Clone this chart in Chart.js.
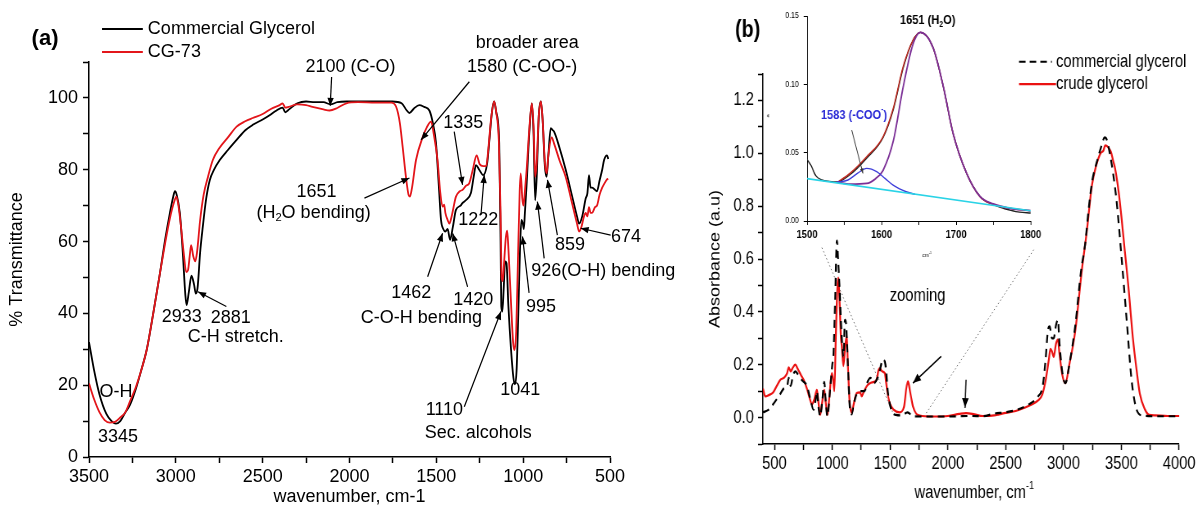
<!DOCTYPE html>
<html>
<head>
<meta charset="utf-8">
<script src="https://cdn.jsdelivr.net/npm/chart.js@4.4.1/dist/chart.umd.min.js"></script>
<style>
  body { margin: 0; background: #fff; width: 1198px; height: 510px; position: relative; overflow: hidden; }
  canvas { position: absolute; top: 0; }
</style>
</head>
<body>
<canvas id="chartA" width="700" height="510" style="left:0"></canvas>
<!-- panel (b) is drawn wide and squeezed to 82% horizontally, like the original figure -->
<canvas id="chartB" width="620" height="510" style="left:690px;width:508px;height:510px"></canvas>
<canvas id="chartIn" width="354" height="260" style="left:757px;width:290px;height:260px"></canvas>
<script>
// ---- panel (a): % transmittance vs wavenumber (cm-1), listed high -> low
const commercialWnA = [3500,3470,3440,3400,3370,3345,3320,3290,3264,3230,3200,3167,3130,3092,3060,3034,3015,3005,2995,2977,2960,2945,2938,2925,2910,2895,2885,2875,2860,2845,2825,2805,2780,2747,2700,2650,2600,2557,2500,2460,2420,2385,2370,2355,2330,2300,2250,2200,2150,2110,2070,2018,1950,1850,1753,1700,1670,1655,1630,1598,1570,1540,1520,1502,1485,1473,1460,1448,1435,1421,1405,1387,1360,1350,1330,1301,1285,1272,1253,1230,1207,1195,1180,1167,1155,1138,1130,1126,1120,1112,1104,1096,1085,1070,1056,1047,1038,1028,1018,1010,1002,996,990,980,965,950,940,931,922,910,898,888,875,865,855,841,830,822,790,755,720,690,678,660,640,630,621,612,603,575,560,545,534,517,510];
const commercialTA  = [32,24,17.5,12,10,9.3,10,12.5,14.5,19,24,30,40,51,61,68,72.5,74,73,68,57,45,42.3,46,50.5,48,45.5,47,57,64,72,77,80,82.7,85.5,88.3,91,92.5,94,95.2,96.5,97.3,96,96.5,97.5,98.5,99,98.8,98.8,98.2,98.8,99,99,99,99,98.5,96.5,95.8,97,98,97.5,96.5,93,87.5,75,66,63.5,62.8,63.5,60.5,64,68.8,70,70.7,71.5,73.5,78,81.3,80,78.5,81.9,88,96,99,96,87.5,60,42,40.5,47,54.5,54,42,30,22,20.2,24,40,58,66,65,63.5,68,76,90,98.5,90,71.5,78,95,99,94,81,78,84,91.6,91,90.6,86,80,73,67,65,67,72,73.5,78.5,75,75,74,77,80,82.7,84,83];
const cg73WnA = [3500,3470,3440,3410,3380,3350,3320,3290,3264,3230,3200,3167,3130,3092,3060,3034,3010,2997,2985,2970,2955,2940,2930,2920,2912,2900,2888,2878,2860,2840,2815,2787,2750,2700,2650,2600,2557,2500,2450,2402,2385,2370,2350,2300,2250,2213,2150,2115,2070,2018,1950,1850,1760,1732,1710,1694,1675,1660,1652,1640,1617,1579,1555,1530,1515,1493,1478,1464,1455,1448,1435,1425,1412,1387,1365,1349,1330,1310,1290,1268,1250,1230,1213,1200,1185,1167,1155,1140,1130,1124,1118,1110,1100,1092,1085,1070,1058,1050,1040,1030,1020,1014,1005,998,990,980,965,950,940,931,922,910,898,888,875,865,855,836,820,790,755,720,690,678,665,650,640,630,621,612,603,586,575,560,545,534,517,510];
const cg73TA  = [20.5,16,12.5,10.3,9.6,9.8,11,12.5,15.5,19.5,24,30,40,51,60,66.5,71,72.5,70,64,57,51.5,52,56,59,56,54.5,57,66,73,78,82.7,86,89,92,93.5,94.4,95.5,97,98,98.5,97.3,97.5,98.2,98,97.5,96.8,96.5,97.2,98.5,98.8,98.7,98.7,97.6,93,86.4,78,73,72.5,75,82.7,89,91.8,93.4,90,82.7,74,69.7,70.3,68,66,65,67,72.5,74,74.4,75.5,76.3,80,84,81.5,81,81,86,94,99,96,88,68,50,49,54,61,63,58,43,32,29.8,35,55,74,79,72,70,74,80,91,98.5,92,78,82,95,99,94,82,79,84,89,87,82.5,78,71,65,62.8,64,67,68,67,69.6,68,68,69.6,70,73,75,76,77.3,77.5];
const xLabelsA = [500,1000,1500,2000,2500,3000,3500];
const yLabelsA = [0,20,40,60,80,100];

// ---- panel (b): absorbance vs wavenumber (cm-1), listed low -> high
const commercialWnB = [400,450,488,520,551,580,610,623,640,660,680,700,740,780,810,838,860,867,880,895,915,930,945,958,980,1000,1010,1025,1040,1050,1062,1075,1085,1096,1110,1120,1135,1150,1168,1185,1211,1240,1255,1280,1300,1330,1360,1400,1440,1460,1480,1510,1550,1600,1650,1700,1800,2000,2200,2300,2400,2500,2600,2700,2780,2820,2845,2865,2880,2900,2915,2935,2951,2965,2990,3016,3050,3102,3150,3188,3220,3250,3290,3330,3355,3375,3400,3430,3461,3503,3546,3589,3632,3680,3800,4000];
const commercialAbsB = [0.02,0.03,0.05,0.07,0.09,0.11,0.12,0.15,0.12,0.16,0.175,0.165,0.14,0.12,0.07,0.03,0.08,0.1,0.04,0.005,0.07,0.135,0.05,0.005,0.1,0.2,0.24,0.45,0.67,0.6,0.5,0.36,0.28,0.23,0.37,0.35,0.2,0.05,0.012,0.05,0.09,0.1,0.1,0.1,0.13,0.15,0.13,0.16,0.22,0.2,0.1,0.03,0.01,0.008,0.02,0.005,0.004,0.004,0.006,0.005,0.015,0.02,0.03,0.05,0.08,0.12,0.22,0.33,0.345,0.3,0.3,0.35,0.37,0.28,0.17,0.13,0.2,0.35,0.55,0.66,0.8,0.9,0.97,1.03,1.06,1.05,1.0,0.92,0.81,0.6,0.37,0.14,0.03,0.008,0.005,0.005];
const crudeWnB = [400,420,450,488,520,551,580,609,623,640,660,680,700,730,752,780,800,824,845,867,882,895,910,930,945,958,975,996,1008,1018,1030,1045,1053,1062,1075,1082,1096,1110,1125,1135,1150,1168,1185,1211,1240,1255,1268,1300,1325,1360,1383,1400,1411,1430,1454,1475,1497,1530,1583,1620,1640,1655,1672,1698,1725,1755,1870,2000,2100,2157,2230,2300,2400,2443,2500,2586,2650,2729,2780,2815,2845,2873,2887,2900,2915,2935,2951,2965,2990,3016,3050,3102,3159,3200,3245,3280,3320,3345,3360,3374,3390,3410,3430,3447,3475,3503,3530,3560,3600,3632,3660,3705,3740,3790,3900,4000];
const crudeAbsB = [0.11,0.08,0.085,0.095,0.12,0.143,0.15,0.168,0.19,0.175,0.19,0.2,0.185,0.16,0.143,0.11,0.08,0.05,0.07,0.105,0.05,0.01,0.05,0.105,0.05,0.01,0.08,0.168,0.14,0.1,0.3,0.5,0.53,0.45,0.3,0.27,0.195,0.26,0.31,0.2,0.06,0.017,0.05,0.093,0.095,0.08,0.093,0.12,0.13,0.135,0.143,0.18,0.187,0.175,0.168,0.1,0.055,0.03,0.02,0.04,0.11,0.137,0.1,0.042,0.015,0.008,0.004,0.006,0.014,0.017,0.012,0.006,0.008,0.012,0.018,0.025,0.035,0.05,0.065,0.086,0.14,0.22,0.26,0.25,0.23,0.28,0.295,0.24,0.16,0.13,0.2,0.33,0.56,0.7,0.877,0.95,1.0,1.01,1.03,1.028,1.02,1.005,0.97,0.94,0.86,0.75,0.63,0.5,0.3,0.18,0.09,0.03,0.01,0.008,0.006,0.006];
// dotted "zooming" guides
const guide1Wn = [910, 1525], guide1Abs = [0.643, 0.017];
const guide2Wn = [1813, 2744], guide2Abs = [0.017, 0.636];
const xLabelsB = [500,1000,1500,2000,2500,3000,3500,4000];
const yLabelsB = [0,0.2,0.4,0.6,0.8,1.0,1.2];

// ---- inset: 1500-1800 cm-1 deconvolution
const rawWn = [1500,1505,1512,1520,1530,1540,1558,1580,1602,1616,1629,1642,1652,1669,1683,1696,1714,1732,1750,1765,1772,1785,1800];
const rawAbs = [0.045,0.041,0.033,0.030,0.029,0.0285,0.034,0.046,0.061,0.082,0.112,0.132,0.138,0.127,0.098,0.064,0.035,0.018,0.012,0.009,0.008,0.0065,0.0058];
const fitWn = [1540,1558,1580,1602,1616,1629,1642,1652,1669,1683,1696,1714,1732,1750,1770,1800];
const fitAbs = [0.028,0.035,0.047,0.0616,0.083,0.113,0.132,0.138,0.127,0.098,0.064,0.035,0.0178,0.012,0.0095,0.0075];
const p1651Wn = [1540,1558,1580,1592,1602,1616,1629,1642,1652,1669,1683,1696,1714,1732,1750,1770,1800];
const p1651Abs = [0.0285,0.027,0.0275,0.031,0.037,0.059,0.098,0.129,0.138,0.127,0.098,0.064,0.035,0.018,0.0125,0.0095,0.0075];
const p1583Wn = [1540,1555,1568,1580,1594,1605,1616,1633,1645];
const p1583Abs = [0.0285,0.030,0.035,0.0385,0.036,0.031,0.026,0.0214,0.0195];
const baseWn = [1500,1800], baseAbs = [0.031,0.0075];
const xLabelsIn = [1500,1600,1700,1800];
const yLabelsIn = [0,0.05,0.1,0.15];

const RED_A = '#e3161b';
const RED_B = '#ea1212';
const FONT = '"Liberation Sans", Arial, sans-serif';

Chart.defaults.color = '#000';
Chart.defaults.font.family = FONT;

function pts(xs, ys) { return xs.map((x, i) => ({ x: x, y: ys[i] })); }

function lineSet(label, xs, ys, color, width, extra) {
  return Object.assign({
    label: label, data: pts(xs, ys), borderColor: color, borderWidth: width,
    pointRadius: 0, fill: false, cubicInterpolationMode: 'monotone'
  }, extra || {});
}

function axis(o) {
  return {
    type: 'linear', min: o.min, max: o.max, reverse: !!o.reverse,
    border: { display: true, color: '#000', width: o.bw || 1.5 },
    grid: { drawOnChartArea: false, drawTicks: true, tickLength: o.tl || 6, tickColor: '#000', tickWidth: o.bw || 1.5 },
    ticks: {
      stepSize: o.step, autoSkip: false, maxRotation: 0, minRotation: 0, includeBounds: false,
      padding: o.pad || 3, color: '#000', font: o.font,
      callback: v => {
        const hit = o.labels.find(l => Math.abs(l - v) < 1e-9);
        return hit === undefined ? '' : o.fmt(hit);
      }
    },
    title: o.title || { display: false },
    afterFit: s => { if (o.w) s.width = o.w; if (o.h) s.height = o.h; }
  };
}

function drawRich(ctx, text, x, y, o) {
  const parts = [];
  const re = /([_^])\{([^}]*)\}/g;
  let last = 0, m;
  while ((m = re.exec(text))) {
    if (m.index > last) parts.push([text.slice(last, m.index), 0]);
    parts.push([m[2], m[1] === '_' ? 1 : -1]);
    last = re.lastIndex;
  }
  if (last < text.length) parts.push([text.slice(last), 0]);
  const size = o.size, wt = o.bold ? 'bold ' : '';
  const f = s => wt + s + 'px ' + FONT;
  let total = 0;
  const widths = parts.map(p => {
    ctx.font = f(p[1] ? size * 0.62 : size);
    const w = ctx.measureText(p[0]).width;
    total += w;
    return w;
  });
  ctx.save();
  ctx.translate(x, y);
  if (o.rot) ctx.rotate(o.rot);
  let cx = o.align === 'left' ? 0 : o.align === 'right' ? -total : -total / 2;
  ctx.fillStyle = o.color || '#000';
  ctx.textBaseline = 'middle';
  ctx.textAlign = 'left';
  parts.forEach((p, i) => {
    ctx.font = f(p[1] ? size * 0.62 : size);
    ctx.fillText(p[0], cx, p[1] * size * (p[1] > 0 ? 0.3 : 0.4));
    cx += widths[i];
  });
  ctx.restore();
}

function drawSeg(ctx, x1, y1, x2, y2, o) {
  ctx.save();
  ctx.strokeStyle = o.color || '#000';
  ctx.fillStyle = o.color || '#000';
  ctx.lineWidth = o.width || 1.2;
  if (o.dash) ctx.setLineDash(o.dash);
  ctx.beginPath();
  ctx.moveTo(x1, y1);
  ctx.lineTo(x2, y2);
  ctx.stroke();
  if (o.head) {
    const a = Math.atan2(y2 - y1, x2 - x1), L = o.headLen || 8, W = L * 0.4;
    ctx.setLineDash([]);
    ctx.beginPath();
    ctx.moveTo(x2, y2);
    ctx.lineTo(x2 - L * Math.cos(a) + W * Math.sin(a), y2 - L * Math.sin(a) - W * Math.cos(a));
    ctx.lineTo(x2 - L * Math.cos(a) - W * Math.sin(a), y2 - L * Math.sin(a) + W * Math.cos(a));
    ctx.closePath();
    ctx.fill();
  }
  ctx.restore();
}

// text + arrows placed in data coordinates of the chart they belong to
function notesPlugin(items, size) {
  return {
    id: 'notes',
    afterDraw(chart) {
      const X = v => chart.scales.x.getPixelForValue(v);
      const Y = v => chart.scales.y.getPixelForValue(v);
      const ctx = chart.ctx;
      items.forEach(it => {
        if (it.line) drawSeg(ctx, X(it.line[0]), Y(it.line[1]), X(it.line[2]), Y(it.line[3]), it);
        if (it.text) drawRich(ctx, it.text, X(it.x), Y(it.y), Object.assign({ size: size }, it));
      });
    }
  };
}

const notesA = [
  { text: '(a)', x: 3753, y: 116.5, size: 22, bold: true },
  { line: [3425, 119.2, 3190, 119.2], width: 2 },
  { text: 'Commercial Glycerol', x: 3161, y: 119.2, align: 'left' },
  { line: [3425, 112.8, 3190, 112.8], color: RED_A, width: 2 },
  { text: 'CG-73', x: 3161, y: 112.8, align: 'left' },
  { text: '2100 (C-O)', x: 1994, y: 108.6 },
  { line: [2103, 105.8, 2111, 97.8], head: true },
  { text: 'broader area', x: 977, y: 115.3 },
  { text: '1580 (C-OO-)', x: 1006, y: 108.6 },
  { line: [1310, 104.5, 1588, 88.3], head: true },
  { text: '1335', x: 1345, y: 93 },
  { line: [1397, 90.6, 1349, 75.8], head: true },
  { text: '1651', x: 2190, y: 73.8 },
  { text: '(H_{2}O bending)', x: 2207, y: 68 },
  { line: [1914, 72.1, 1655, 77.7], head: true },
  { text: '1222', x: 1259, y: 66 },
  { line: [1243, 67.4, 1224, 78.5], head: true },
  { text: '859', x: 730, y: 59 },
  { line: [803, 61.8, 860, 77.2], head: true },
  { text: '674', x: 408, y: 61.3 },
  { line: [496, 61.8, 669, 63.7], head: true },
  { text: '926(O-H) bending', x: 954, y: 51.8, align: 'left' },
  { line: [879, 55.3, 918, 71.1], head: true },
  { text: '995', x: 897, y: 41.8 },
  { line: [966, 45.7, 1004, 61.4], head: true },
  { text: '1462', x: 1644, y: 45.7 },
  { line: [1550, 50.2, 1464, 62.3], head: true },
  { text: '1420', x: 1287, y: 43.7 },
  { line: [1320, 47.4, 1406, 62.3], head: true },
  { text: 'C-O-H bending', x: 1586, y: 38.7 },
  { text: '1041', x: 1017, y: 18.7 },
  { text: '1110', x: 1454, y: 13.1 },
  { line: [1339, 14, 1128, 40.5], head: true },
  { text: 'Sec. alcohols', x: 1259, y: 6.7 },
  { text: '2933', x: 2966, y: 39 },
  { text: '2881', x: 2684, y: 38.7 },
  { line: [2709, 41.9, 2872, 46], head: true },
  { text: 'C-H stretch.', x: 2655, y: 33.4 },
  { text: 'O-H', x: 3345, y: 18.1 },
  { text: '3345', x: 3333, y: 5.6 }
];

const notesB = [
  { text: '(b)', x: 268, y: 1.464, size: 24, bold: true },
  { line: [2615, 1.346, 2899, 1.346], width: 2, dash: [8, 5] },
  { text: 'commercial glycerol', x: 2935, y: 1.346, align: 'left' },
  { line: [2615, 1.262, 2935, 1.262], color: RED_B, width: 2.2 },
  { text: 'crude glycerol', x: 2935, y: 1.262, align: 'left' },
  { text: 'zooming', x: 1738, y: 0.458 },
  { line: [1942, 0.2315, 1697, 0.1305], head: true, width: 1.5, headLen: 10 },
  { line: [2157, 0.143, 2148, 0.036], head: true, width: 1.5, headLen: 10 },
  { text: 'wavenumber, cm^{-1}', x: 2228, y: -0.2858 }
];

const notesIn = [
  { text: '1651 (H_{2}O)', x: 1662, y: 0.1468, size: 13.5, bold: true },
  { text: '1583 (-COO^{-})', x: 1563, y: 0.0774, size: 13.5, bold: true, color: '#2b2bd6' },
  { line: [1560, 0.0665, 1575, 0.0348], head: true, color: '#333', width: 1, headLen: 5 },
  { text: 'cm^{-1}', x: 1661, y: -0.0248, size: 6 },
  { text: 'a', x: 1448, y: 0.077, size: 6, rot: -Math.PI / 2 }
];

// ---------------- panel (a)
new Chart(document.getElementById('chartA'), {
  type: 'line',
  data: {
    datasets: [
      lineSet('CG-73', cg73WnA, cg73TA, RED_A, 1.8, { order: 0 }),
      lineSet('Commercial Glycerol', commercialWnA, commercialTA, '#000', 1.8, { order: 1 })
    ]
  },
  options: {
    responsive: false, animation: false, events: [],
    layout: { padding: { top: 62, right: 90, left: 0, bottom: 0 } },
    plugins: { legend: { display: false }, tooltip: { enabled: false } },
    scales: {
      x: axis({ min: 500, max: 3500, reverse: true, step: 250, labels: xLabelsA, fmt: v => String(v), h: 53,
        font: { family: FONT, size: 18 },
        title: { display: true, text: 'wavenumber, cm-1', font: { family: FONT, size: 18 }, padding: { top: 0, bottom: 2 } } }),
      y: axis({ min: 0, max: 110, step: 10, labels: yLabelsA, fmt: v => String(v), w: 89, pad: 5,
        font: { family: FONT, size: 18 },
        title: { display: true, text: '% Transmittance', font: { family: FONT, size: 18 }, padding: { top: 6, bottom: 0 } } })
    }
  },
  plugins: [notesPlugin(notesA, 18)]
});

// ---------------- panel (b)
new Chart(document.getElementById('chartB'), {
  type: 'line',
  data: {
    datasets: [
      lineSet('commercial glycerol', commercialWnB, commercialAbsB, '#000', 2.2, { borderDash: [8, 6], order: 0 }),
      lineSet('crude glycerol', crudeWnB, crudeAbsB, RED_B, 2.2, { order: 1 }),
      lineSet('guide1', guide1Wn, guide1Abs, '#666', 1, { borderDash: [1.5, 2.5], cubicInterpolationMode: 'default', order: 2 }),
      lineSet('guide2', guide2Wn, guide2Abs, '#666', 1, { borderDash: [1.5, 2.5], cubicInterpolationMode: 'default', order: 2 })
    ]
  },
  options: {
    responsive: false, animation: false, events: [],
    layout: { padding: { top: 74, right: 21, left: 0, bottom: 0 } },
    plugins: { legend: { display: false }, tooltip: { enabled: false } },
    scales: {
      x: axis({ min: 400, max: 4000, step: 250, labels: xLabelsB, fmt: v => String(v), h: 66,
        font: { family: FONT, size: 18 } }),
      y: axis({ min: -0.1, max: 1.3, step: 0.1, labels: yLabelsB, fmt: v => v.toFixed(1), w: 89, pad: 5,
        font: { family: FONT, size: 18 },
        title: { display: true, text: 'Absorbance (a.u)', font: { family: FONT, size: 18 }, padding: { top: 20, bottom: 0 } } })
    }
  },
  plugins: [notesPlugin(notesB, 18)]
});

// ---------------- inset
new Chart(document.getElementById('chartIn'), {
  type: 'line',
  data: {
    datasets: [
      lineSet('1583', p1583Wn, p1583Abs, '#3a3ad8', 1.4, { order: 1 }),
      lineSet('1651', p1651Wn, p1651Abs, '#7b2f96', 1.8, { order: 2 }),
      lineSet('fit', fitWn, fitAbs, '#c0281e', 1.4, { order: 3 }),
      lineSet('raw', rawWn, rawAbs, '#222', 1.4, { order: 4 }),
      lineSet('baseline', baseWn, baseAbs, '#2ad3e6', 1.6, { cubicInterpolationMode: 'default', order: 0 })
    ]
  },
  options: {
    responsive: false, animation: false, events: [],
    layout: { padding: { top: 16, right: 20, left: 0, bottom: 0 } },
    plugins: { legend: { display: false }, tooltip: { enabled: false } },
    scales: {
      x: axis({ min: 1500, max: 1800, step: 50, labels: xLabelsIn, fmt: v => String(v), h: 39, tl: 4, bw: 1,
        font: { family: FONT, size: 11.5, weight: 'bold' } }),
      y: axis({ min: 0, max: 0.15, step: 0.05, labels: yLabelsIn, fmt: v => v.toFixed(2), w: 61, tl: 4, bw: 1, pad: 6,
        font: { family: FONT, size: 8.5 } })
    }
  },
  plugins: [notesPlugin(notesIn, 12)]
});
</script>
</body>
</html>
